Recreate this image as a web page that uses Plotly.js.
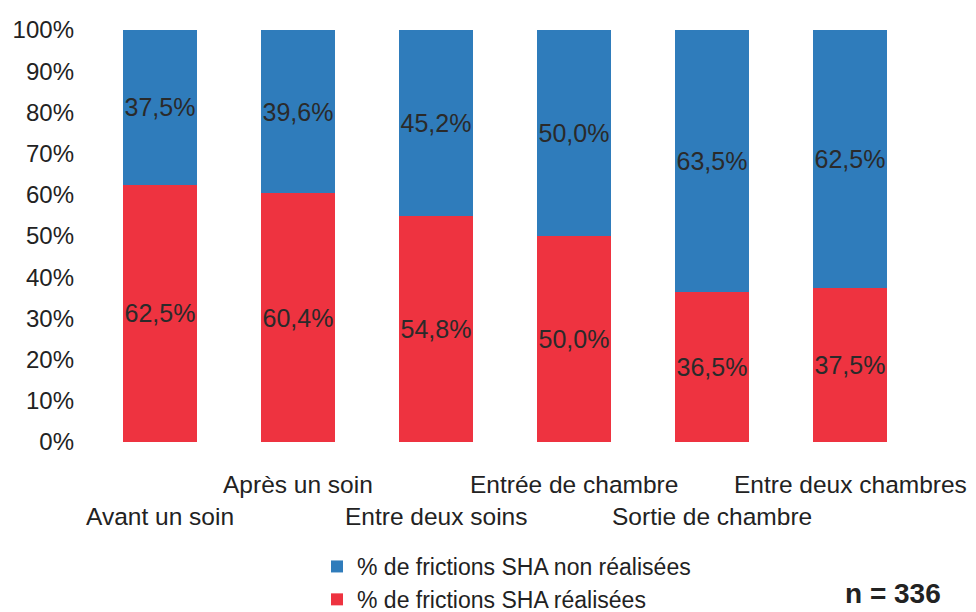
<!DOCTYPE html>
<html><head><meta charset="utf-8">
<script src="https://cdn.plot.ly/plotly-3.0.1.min.js"></script>
<style>html,body{margin:0;padding:0;background:#fff}#chart{width:976px;height:612px}</style>
</head><body><div id="chart"></div>
<script>
const categories = ["Avant un soin","Après un soin","Entre deux soins","Entrée de chambre","Sortie de chambre","Entre deux chambres"];
const realisees = [62.5, 60.4, 54.8, 50.0, 36.5, 37.5];
const nonRealisees = [37.5, 39.6, 45.2, 50.0, 63.5, 62.5];
const yTicks = [0,10,20,30,40,50,60,70,80,90,100];
const nLabel = "n = 336";

const FONT = 'Liberation Sans, Arial, sans-serif';
const fmt = v => v.toFixed(1).replace('.', ',') + '%';
const labelFont = {family: FONT, size: 25, color: '#2a2a2a'};

const traces = [
  {type:'bar', name:'% de frictions SHA réalisées', x:categories, y:realisees,
   text: realisees.map(fmt), textposition:'inside', insidetextanchor:'middle', textangle:0,
   constraintext:'none',
   textfont: labelFont, marker:{color:'#ee3340'}, hoverinfo:'skip'},
  {type:'bar', name:'% de frictions SHA non réalisées', x:categories, y:nonRealisees,
   text: nonRealisees.map(fmt), textposition:'inside', insidetextanchor:'middle', textangle:0,
   constraintext:'none',
   textfont: labelFont, marker:{color:'#2f7cbb'}, hoverinfo:'skip'}
];

const annotations = categories.map((c, i) => ({
  x: c, xref:'x', y: 0, yref:'paper', yanchor:'middle',
  yshift: i % 2 === 1 ? -42 : -74,
  text: c, showarrow:false,
  font:{family:FONT, size:24.5, color:'#222'}
}));
annotations.push({
  x: (893-91)/828, xref:'paper', y:(442-593)/412, yref:'paper', xanchor:'center', yanchor:'middle',
  text: '<b>' + nLabel + '</b>', showarrow:false,
  font:{family:FONT, size:28, color:'#222'}
});

const layout = {
  width:976, height:612,
  margin:{l:91, r:57, t:30, b:170, autoexpand:false},
  paper_bgcolor:'#fff', plot_bgcolor:'#fff',
  barmode:'stack', bargap:0.46,
  font:{family:FONT, color:'#222'},
  xaxis:{range:[-0.5,5.5], autorange:false, showticklabels:false, showline:false, zeroline:false, showgrid:false, ticks:'', automargin:false},
  yaxis:{range:[0,100], autorange:false, tickvals:yTicks, ticktext:yTicks.map(v=>v+'%'),
         showgrid:false, zeroline:false, showline:false, ticks:'', automargin:false,
         ticklabelstandoff:16,
         tickfont:{family:FONT, size:24, color:'#222'}},
  showlegend:true,
  legend:{x:317/976, xref:'container', xanchor:'left', y:(612-545)/612, yref:'container', yanchor:'top', traceorder:'reversed',
          font:{family:FONT, size:23, color:'#222'},
          itemwidth:30, tracegroupgap:0, bgcolor:'rgba(0,0,0,0)'},
  annotations: annotations
};

Plotly.newPlot('chart', traces, layout, {displayModeBar:false, staticPlot:true});
</script>
</body></html>
